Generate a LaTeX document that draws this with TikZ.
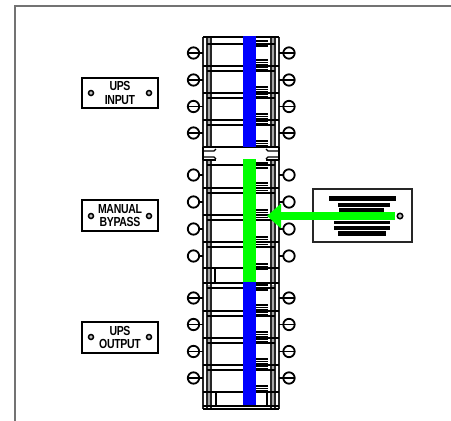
\documentclass[tikz,border=0pt]{standalone}
\usepackage{graphicx}
\usepackage{fontspec}
\newfontfamily\platefont[LetterSpace=-3]{Liberation Sans}
\usetikzlibrary{arrows.meta}

\newcommand{\platetext}[2]{\scalebox{1}[1.25]{#1}\\\scalebox{1}[1.25]{#2}}

\tikzset{
    plate/.style={draw=black, line width=1.3pt, minimum width=76pt, inner sep=0pt, align=center,
        font=\platefont\bfseries\fontsize{10.5}{13.5}\selectfont},
    platedot/.style={circle, draw=black, fill=gray!50, line width=1.5pt, minimum size=5pt, inner sep=0pt},
    screw/.style={draw=black, line width=1.8pt, fill=white},
    rail/.style={draw=black, line width=1.1pt},
    hatch/.style={draw=black, line width=1.5pt},
    blurline/.style={draw=black, line width=4.6pt}
}

\begin{document}
\begin{tikzpicture}[x=1pt, y=-1pt]
    \useasboundingbox (0,0) rectangle (451,421);

    % Outer frame, open at the right and the bottom
    \draw[gray!90!black, line width=1.5pt] (15,421) -- (15,6) -- (451,6);

    % Side rails of the panel
    \fill[gray!70] (207,37) rectangle (211,147);
    \fill[gray!70] (271,37) rectangle (275,147);
    \fill[gray!70] (207,160) rectangle (211,283);
    \fill[gray!70] (271,160) rectangle (275,283);
    \fill[gray!70] (207,285) rectangle (211,406);
    \fill[gray!70] (271,285) rectangle (275,406);
    \foreach \x in {203,207,211,271,275,279} {
        \draw[rail, gray!30!black] (\x,37) -- (\x,147);
        \draw[rail, gray!30!black] (\x,160) -- (\x,409);
    }

    % Breaker rows: long line and short line
    \foreach \y in {66,93,120,188,215,242,311,338,365} {
        \draw[rail, line width=1.6pt] (203,\y) -- (279,\y);
        \draw[rail, line width=1.3pt] (207,\y+5) -- (275,\y+5);
    }
    \draw[rail, line width=1.3pt] (207,44) -- (275,44);
    \draw[rail, line width=1.3pt] (207,165) -- (275,165);
    \draw[rail] (203,268) -- (279,268);
    \draw[rail] (203,283) -- (279,283);
    \draw[rail, line width=1.3pt] (207,288) -- (275,288);
    \draw[rail] (203,392) -- (279,392);
    \draw[rail, line width=1.9pt] (203,37) -- (279,37);
    \draw[rail] (203,406) -- (279,406);
    \draw[rail, line width=1.5pt] (203,409) -- (279,409);

    % Bottom corners of the sections
    \fill[white] (212,269) rectangle (215,282);
    \draw[rail] (215,268) -- (215,283);
    \fill[white] (212,393) rectangle (215.5,405);
    \fill[white] (267,393) rectangle (270,405);
    \draw[rail] (216,392) -- (216,406);
    \draw[rail] (267,392) -- (267,406);

    % Notched gap between the upper and the middle section
    \fill[white] (202,147.5) rectangle (280,159.5);
    \draw[rail, line width=1.6pt] (203,147) -- (279,147);
    \draw[rail] (203,147) -- (203,160);
    \draw[rail] (279,147) -- (279,160);
    \draw[rail] (203,151) -- (214,151) -- (216,149);
    \draw[rail] (279,151) -- (268,151) -- (266,149);
    \draw[rail] (203,157) -- (214,157) -- (216,159);
    \draw[rail] (279,157) -- (268,157) -- (266,159);
    \draw[rail, line width=1.3pt] (203,160) -- (216,160);
    \draw[rail, line width=1.3pt] (266,160) -- (279,160);

    % Hatching on the right of each row
    \foreach \y in {60,87,114,183,210,237,305,332,359} {
        \foreach \d in {0,2.5,5,7.5,10} {
            \draw[hatch] (256,\y+\d) -- (268,\y+\d);
        }
    }
    \foreach \y in {41,141,163,264,285,386} {
        \foreach \d in {0,2.5,5} {
            \draw[hatch] (256,\y+\d) -- (268,\y+\d);
        }
    }

    % Screws on both sides: upper and lower groups have a slot
    \foreach \y in {53,80,106.5,133,298,324.5,351.5,378} {
        \draw[screw] (193.5,\y) circle (5.7);
        \draw[screw, line width=1.3pt] (188,\y) -- (199,\y);
        \draw[screw] (289,\y) circle (5.7);
        \draw[screw, line width=1.3pt] (283.5,\y) -- (294.5,\y);
    }
    \foreach \y in {175,202,229,256} {
        \draw[screw] (193.5,\y) circle (5.7);
        \draw[screw] (289,\y) circle (5.7);
    }
    \foreach \y in {53,80,106.5,133,175,202,229,256,298,324.5,351.5,378} {
        \draw[rail] (199,\y) -- (203,\y);
        \draw[rail] (279,\y) -- (283.5,\y);
    }

    % Bus bars
    \fill[blue] (243,36) rectangle (256,147);
    \fill[green] (243,159) rectangle (256,282);
    \fill[blue] (243,282) rectangle (256,405);

    % Left plates
    \node[plate, minimum height=30pt] (upsinput) at (120,93) {\platetext{UPS}{INPUT}};
    \node[plate, minimum height=31pt] (manualbypass) at (120,215.5) {\platetext{MANUAL}{BYPASS}};
    \node[plate, minimum height=31pt] (upsoutput) at (120,337.5) {\platetext{UPS}{OUTPUT}};
    \node[platedot] (inputleft) at (91,93) {};
    \node[platedot] (inputright) at (149,93) {};
    \node[platedot] (bypassleft) at (91,216) {};
    \node[platedot] (bypassright) at (149,216) {};
    \node[platedot] (outputleft) at (91,337) {};
    \node[platedot] (outputright) at (149,337) {};

    % Right placard with unreadable small print
    \draw[black!85, line width=1.3pt] (313,189) rectangle (412,242);
    \draw[blurline] (329,198.5) -- (396,198.5);
    \draw[blurline, line width=3.6pt] (338,205) -- (390,205);
    \draw[blurline] (339,210) -- (384,210);
    \draw[blurline, line width=3.6pt] (334,222.5) -- (390,222.5);
    \draw[blurline, line width=3.6pt] (334,228) -- (390,228);
    \draw[blurline] (338,233.5) -- (386,233.5);

    % Arrow from the placard to the bus
    \node[platedot, minimum size=5.5pt] (placarddot) at (400,216) {};
    \coordinate (arrowtail) at (395,216);
    \coordinate (arrowtip) at (267,216);
    \draw[green, line width=8pt, -{Triangle[length=14pt, width=24pt]}] (arrowtail) -- (arrowtip);
\end{tikzpicture}
\end{document}
